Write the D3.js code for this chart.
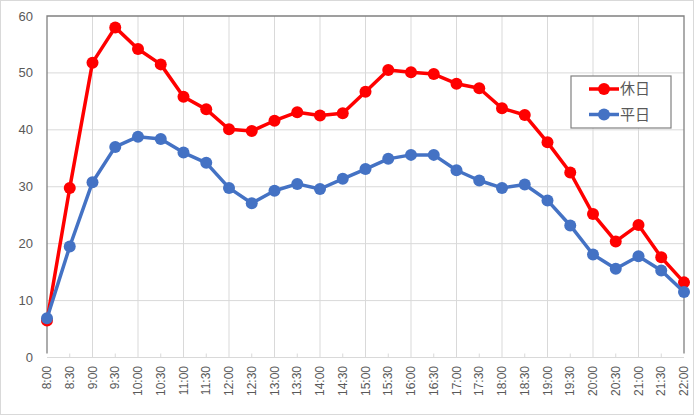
<!DOCTYPE html>
<html><head><meta charset="utf-8">
<script src="https://cdn.jsdelivr.net/npm/d3@7"></script>
<style>body{margin:0;background:#fff}svg{display:block}</style>
</head><body>
<script>
const categories = ["8:00","8:30","9:00","9:30","10:00","10:30","11:00","11:30","12:00","12:30","13:00","13:30","14:00","14:30","15:00","15:30","16:00","16:30","17:00","17:30","18:00","18:30","19:00","19:30","20:00","20:30","21:00","21:30","22:00"];
const holiday = [6.5,29.8,51.8,58.0,54.2,51.5,45.8,43.6,40.1,39.8,41.6,43.1,42.5,42.9,46.7,50.5,50.1,49.8,48.1,47.3,43.8,42.6,37.8,32.5,25.2,20.4,23.3,17.6,13.2];
const weekday = [6.9,19.5,30.8,37.0,38.8,38.4,36.0,34.2,29.8,27.1,29.3,30.5,29.6,31.4,33.1,34.9,35.6,35.6,32.9,31.1,29.8,30.4,27.6,23.2,18.1,15.6,17.8,15.3,11.5];
const seriesNames = ["休日","平日"];
const colors = ["#FF0000","#4472C4"];
const yTicks = [0,10,20,30,40,50,60];

const W=695,H=416;
const m={l:47,r:684,t:16,b:357.5};
const svg=d3.select("body").append("svg").attr("width",W).attr("height",H);
svg.append("rect").attr("x",0.5).attr("y",0.5).attr("width",W-2).attr("height",H-2).attr("fill","#fff").attr("stroke","#d9d9d9");

const x=d3.scalePoint().domain(categories).range([m.l,m.r]);
const y=d3.scaleLinear().domain([0,60]).range([m.b,m.t]);
const fontNum="'Liberation Sans', Arial, sans-serif";

// horizontal gridlines
svg.append("g").selectAll("line").data(yTicks.filter(d=>d>0&&d<60)).join("line")
  .attr("x1",m.l).attr("x2",m.r).attr("y1",d=>y(d)).attr("y2",d=>y(d)).attr("stroke","#d9d9d9");
// vertical gridlines at full hours
svg.append("g").selectAll("line").data(categories.filter((c,i)=>i%2===0&&i>0&&i<categories.length-1)).join("line")
  .attr("x1",d=>x(d)).attr("x2",d=>x(d)).attr("y1",m.t).attr("y2",m.b).attr("stroke","#d9d9d9");
// half-hour ticks
svg.append("g").selectAll("line").data(categories.filter((c,i)=>i%2===1)).join("line")
  .attr("x1",d=>x(d)).attr("x2",d=>x(d)).attr("y1",m.b-4).attr("y2",m.b).attr("stroke","#d9d9d9");
// bottom axis line
svg.append("line").attr("x1",m.l).attr("x2",m.r).attr("y1",m.b).attr("y2",m.b).attr("stroke","#d9d9d9");
// border top/left/right
svg.append("path").attr("d",`M${m.l},${m.b-4}V${m.t}H${m.r}V${m.b-4}`).attr("fill","none").attr("stroke","#808080").attr("stroke-width",1.3);

// y labels
svg.append("g").selectAll("text").data(yTicks).join("text")
  .attr("x",33).attr("y",d=>y(d)).attr("dy","0.35em").attr("text-anchor","end")
  .attr("font-family",fontNum).attr("font-size",13).attr("fill","#595959").text(d=>d);
// x labels
svg.append("g").selectAll("text").data(categories).join("text")
  .attr("transform",d=>`translate(${x(d)},366) rotate(-90)`).attr("dy","0.35em").attr("text-anchor","end")
  .attr("font-family",fontNum).attr("font-size",12).attr("fill","#595959").text(d=>d);

const data=[holiday,weekday];
const line=d3.line().x((d,i)=>x(categories[i])).y(d=>y(d));
data.forEach((s,k)=>{
  const g=svg.append("g");
  g.append("path").datum(s).attr("d",line).attr("fill","none").attr("stroke",colors[k]).attr("stroke-width",3.5).attr("stroke-linejoin","round");
  g.selectAll("circle").data(s).join("circle").attr("cx",(d,i)=>x(categories[i])).attr("cy",d=>y(d)).attr("r",6).attr("fill",colors[k]);
});

// legend
const lg=svg.append("g");
lg.append("rect").attr("x",571).attr("y",76).attr("width",100).attr("height",52).attr("fill","#fff").attr("stroke","#808080").attr("stroke-width",1.2);
seriesNames.forEach((n,k)=>{
  const yy=89+k*25.5;
  lg.append("line").attr("x1",589).attr("x2",619).attr("y1",yy).attr("y2",yy).attr("stroke",colors[k]).attr("stroke-width",3.5);
  lg.append("circle").attr("cx",604).attr("cy",yy).attr("r",6).attr("fill",colors[k]);
  lg.append("text").attr("x",620).attr("y",yy).attr("dy","0.35em").attr("font-family","'Noto Sans CJK JP', sans-serif").attr("font-size",15).attr("fill","#595959").text(n);
});
</script>
</body></html>
